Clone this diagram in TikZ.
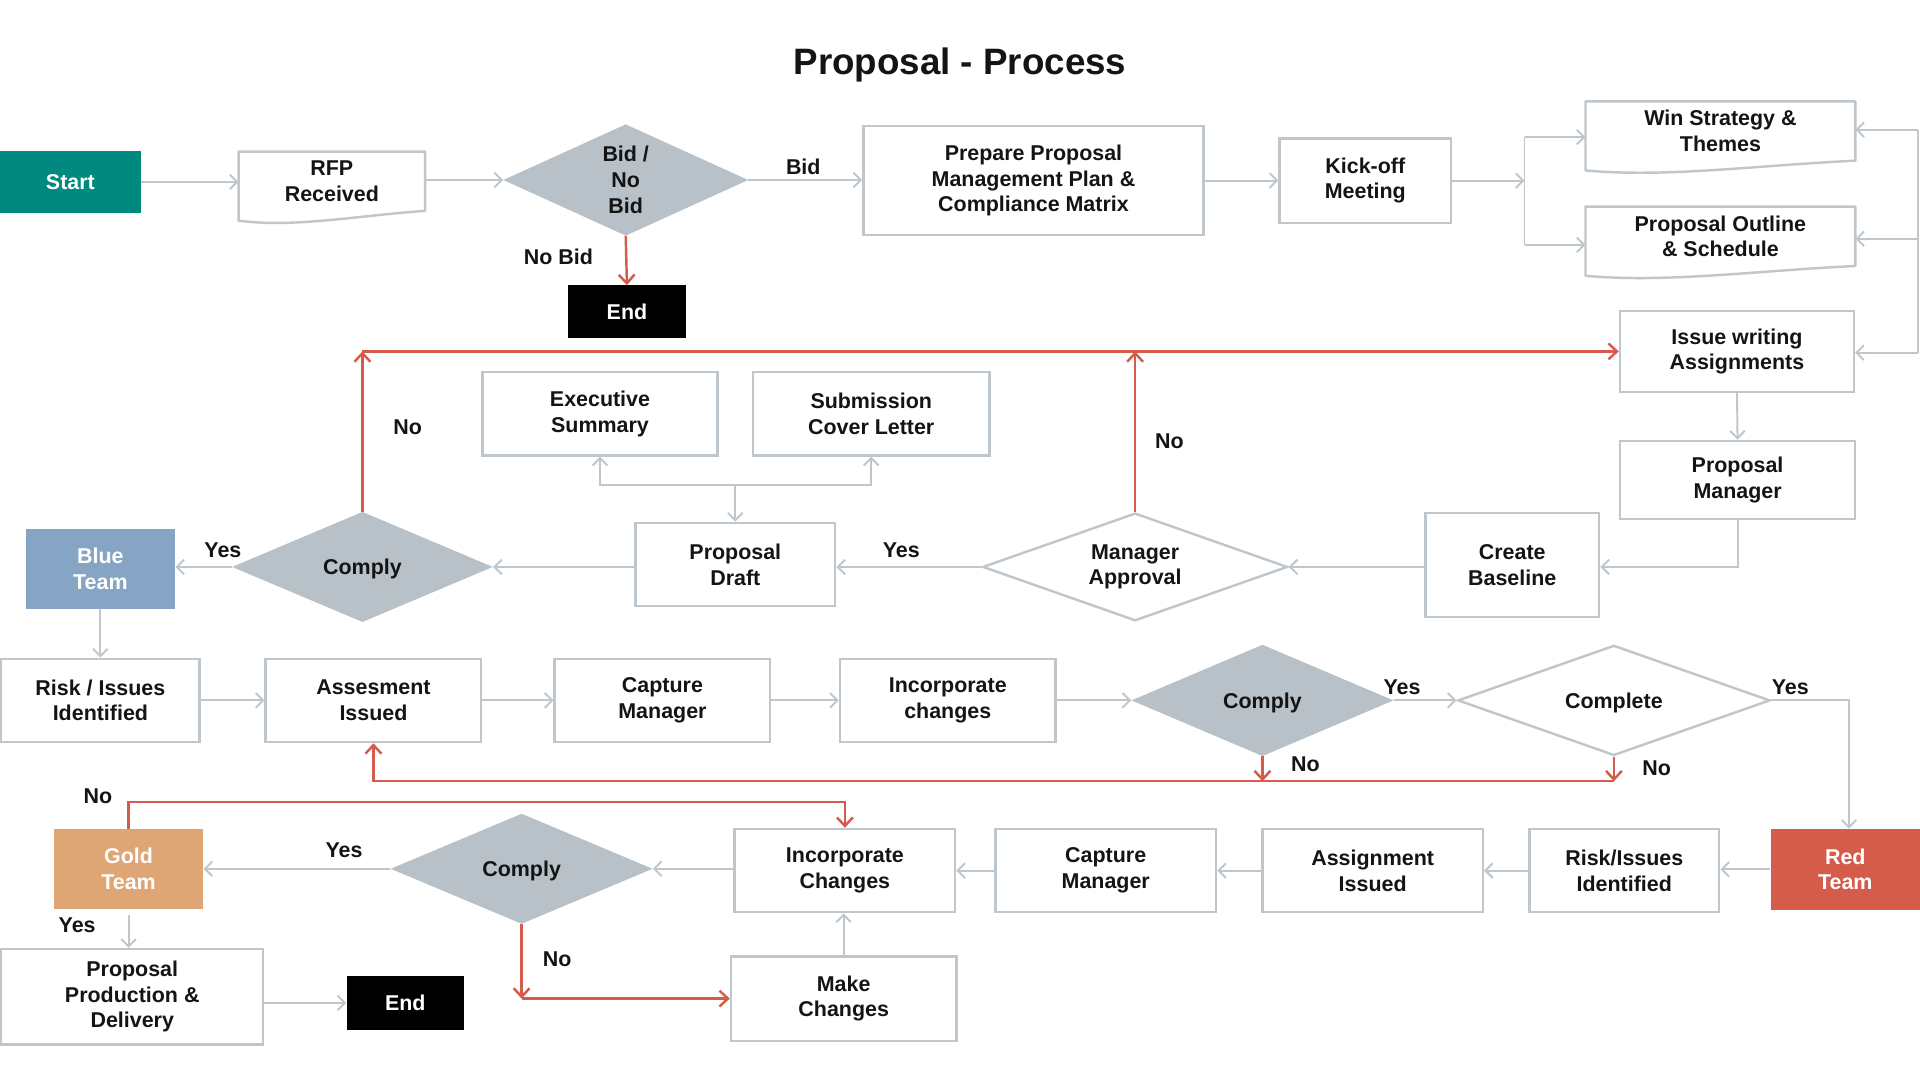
\documentclass[tikz,border=0pt]{standalone}
\usepackage{fontspec}
\setmainfont{Liberation Sans}
\usetikzlibrary{shapes.geometric,arrows.meta}
\definecolor{cTeal}{HTML}{00897E}
\definecolor{cGray}{HTML}{BFC7CD}
\definecolor{cDia}{HTML}{B7C1C7}
\definecolor{cBlue}{HTML}{86A5C5}
\definecolor{cGold}{HTML}{DEA674}
\definecolor{cRed}{HTML}{D55B4A}
\definecolor{cText}{HTML}{141414}
\newcommand{\docwave}[2]{%
  \draw[draw=cGray, line width=2pt, line join=round]
    (#1.south west) -- (#1.north west) -- (#1.north east) -- (#1.south east)
    .. controls ([xshift={-0.375*#2}, yshift=-4pt]#1.south east)
           and ([xshift={0.3*#2}, yshift=-14pt]#1.south west)
    .. ([yshift=-8pt]#1.south west) -- cycle;}
\begin{document}
\begin{tikzpicture}[x=1pt,y=-1pt,
  font=\bfseries\fontsize{17.5}{21}\selectfont, text=cText,
  >={Straight Barb[length=6pt,width=12pt]},
  sz/.style 2 args={minimum width=#1pt, minimum height=#2pt},
  box/.style={rectangle, draw=cGray, line width=2pt, fill=white, align=center, inner sep=0pt},
  solidbox/.style={rectangle, fill=#1, draw=none, text=white, align=center, inner sep=0pt},
  docnode/.style={rectangle, draw=none, align=center, inner sep=0pt},
  dia/.style={diamond, draw=cGray, line width=2pt, fill=white, align=center, inner sep=0pt},
  fdia/.style={diamond, draw=none, fill=cDia, align=center, inner sep=0pt},
  oneline/.style={text height=13pt, text depth=0pt},
  arr/.style={->, draw=cGray, line width=1.6pt},
  redarr/.style={->, draw=cRed, line width=2pt, >={Straight Barb[length=7pt,width=13pt]}},
  lbl/.style={inner sep=0pt}]
\useasboundingbox[fill=white] (0,0) rectangle (1568,882);

\node[lbl] (title) at (784,53) {\fontsize{30}{36}\selectfont Proposal - Process};

% Row 1
\node[solidbox=cTeal, sz={115}{51}] (start) at (57.5,148.5) {Start};
\node[docnode, sz={152}{48}] (rfp) at (271,148) {RFP\\Received};
\docwave{rfp}{152}
\node[fdia, shape aspect=2.2, sz={200}{91}] (bid) at (511,147) {Bid /\\No\\Bid};
\node[solidbox=black, sz={96}{43}] (end1) at (512,254.5) {End};
\node[box, sz={278}{89}] (prep) at (844,147.5) {Prepare Proposal\\Management Plan \&\\Compliance Matrix};
\node[box, sz={140}{69}] (kick) at (1115,147.5) {Kick-off\\Meeting};
\node[docnode, sz={220}{48}] (win) at (1405,107) {Win Strategy \&\\Themes};
\docwave{win}{220}
\node[docnode, sz={220}{48}] (outline) at (1405,193) {Proposal Outline\\\& Schedule};
\docwave{outline}{220}
\node[box, sz={191}{66}] (issue) at (1418.5,287) {Issue writing\\Assignments};

% Row 2
\node[box, sz={192}{64}] (pm) at (1419,392) {Proposal\\Manager};
\node[box, sz={142}{85}] (base) at (1235,461.5) {Create\\Baseline};
\node[dia, shape aspect=2.8, sz={249}{88}] (ma) at (927,463) {Manager\\Approval};
\node[box, sz={192}{68}] (exec) at (490,338) {Executive\\Summary};
\node[box, sz={193}{68}] (sub) at (711.5,338) {Submission\\Cover Letter};
\node[box, sz={163}{68}] (draft) at (600.5,461) {Proposal\\Draft};
\node[fdia, oneline, shape aspect=2.4, sz={213}{90}] (c1) at (296,463) {Comply};
\node[solidbox=cBlue, sz={122}{65}] (blue) at (82,464.5) {Blue\\Team};

% Row 3
\node[box, sz={162}{68}] (risk1) at (82,572) {Risk / Issues\\Identified};
\node[box, sz={176}{68}] (assess) at (305,572) {Assesment\\Issued};
\node[box, sz={176}{68}] (cap1) at (541,572) {Capture\\Manager};
\node[box, sz={176}{68}] (inc1) at (774,572) {Incorporate\\changes};
\node[fdia, oneline, shape aspect=2.4, sz={214}{91}] (c2) at (1031,572) {Comply};
\node[dia, oneline, shape aspect=2.8, sz={255}{90}] (comp) at (1318,572) {Complete};

% Row 4
\node[solidbox=cRed, sz={122}{66}] (red) at (1507,710) {Red\\Team};
\node[box, sz={155}{68}] (risk2) at (1326.5,711) {Risk/Issues\\Identified};
\node[box, sz={180}{68}] (assign) at (1121,711) {Assignment\\Issued};
\node[box, sz={180}{68}] (cap2) at (903,711) {Capture\\Manager};
\node[box, sz={180}{68}] (inc2) at (690,711) {Incorporate\\Changes};
\node[fdia, oneline, shape aspect=2.4, sz={214}{90}] (c3) at (426,709.5) {Comply};
\node[solidbox=cGold, sz={122}{65}] (gold) at (105,709.5) {Gold\\Team};

% Row 5
\node[box, sz={214}{78}] (prod) at (108,814) {Proposal\\Production \&\\Delivery};
\node[solidbox=black, sz={96}{44}] (end2) at (331,819) {End};
\node[box, sz={184}{69}] (make) at (689,815.5) {Make\\Changes};

% Labels
\node[lbl] (lbid) at (656,136) {Bid};
\node[lbl] (lnobid) at (456,210) {No Bid};
\node[lbl] (lno1) at (333,349) {No};
\node[lbl] (lno2) at (955,360) {No};
\node[lbl] (lyes1) at (182,449) {Yes};
\node[lbl] (lyes2) at (736,449) {Yes};
\node[lbl] (lyes3) at (1145,561) {Yes};
\node[lbl] (lyes4) at (1462,561) {Yes};
\node[lbl] (lno3) at (1066,624) {No};
\node[lbl] (lno4) at (1353,627) {No};
\node[lbl] (lno5) at (80,650) {No};
\node[lbl] (lyes5) at (281,694) {Yes};
\node[lbl] (lyes6) at (63,756) {Yes};
\node[lbl] (lno6) at (455,783) {No};

% Coordinates
\coordinate (fk) at (1245,147.5);
\coordinate (fkt) at (1245,112);
\coordinate (fkb) at (1245,200);
\coordinate (rb1) at (1566,106);
\coordinate (rb2) at (1566,195);
\coordinate (rb3) at (1566,288);
\coordinate (dj) at (600.5,396);
\coordinate (rc) at (296,287);
\coordinate (rbus) at (1318,638);

% Row 1 connectors
\draw[arr] (start.east) -- (start.east -| rfp.west);
\draw[arr] (rfp.east |- bid.west) -- (bid.west);
\draw[arr] (bid.east) -- (bid.east -| prep.west);
\draw[redarr] (bid.south) -- (end1.north);
\draw[arr] (prep.east) -- (prep.east -| kick.west);
\draw[arr] (kick.east) -- (fk);
\draw[draw=cGray, line width=1.6pt] (fkt) -- (fkb);
\draw[arr] (fkt) -- (fkt -| win.west);
\draw[arr] (fkb) -- (fkb -| outline.west);
\draw[draw=cGray, line width=1.6pt] (rb1) -- (rb3);
\draw[arr] (rb1) -- (rb1 -| win.east);
\draw[arr] (rb2) -- (rb2 -| outline.east);
\draw[arr] (rb3) -- (rb3 -| issue.east);

% Row 2 connectors
\draw[arr] (issue.south) -- (pm.north);
\draw[arr] (pm.south) -- (pm.south |- ma.east) -- (ma.east -| base.east);
\draw[arr] (ma.east -| base.west) -- (ma.east);
\draw[arr] (ma.west) -- (ma.west -| draft.east);
\draw[arr] (c1.east -| draft.west) -- (c1.east);
\draw[arr] (c1.west) -- (c1.west -| blue.east);
\draw[arr] (dj) -- (draft.north);
\draw[arr] (dj) -| (exec.south);
\draw[arr] (dj) -| (sub.south);
\draw[redarr] (c1.north) -- (rc);
\draw[redarr] (rc) -- (issue.west);
\draw[redarr] (ma.north) -- (ma.north |- rc);

% Row 3 connectors
\draw[arr] (blue.south) -- (risk1.north);
\draw[arr] (risk1.east) -- (assess.west);
\draw[arr] (assess.east) -- (cap1.west);
\draw[arr] (cap1.east) -- (inc1.west);
\draw[arr] (inc1.east) -- (c2.west);
\draw[arr] (c2.east) -- (comp.west);
\draw[arr] (comp.east) -| ([xshift=3pt]red.north);
\draw[redarr] (comp.south) -- (rbus);
\draw[redarr] (c2.south) -- (c2.south |- rbus);
\draw[redarr] (rbus) -| (assess.south);

% Row 4 connectors
\draw[arr] (red.west) -- (red.west -| risk2.east);
\draw[arr] (risk2.west) -- (assign.east);
\draw[arr] (assign.west) -- (cap2.east);
\draw[arr] (cap2.west) -- (inc2.east);
\draw[arr] (c3.east -| inc2.west) -- (c3.east);
\draw[arr] (c3.west) -- (c3.west -| gold.east);
\draw[redarr] (gold.north) -- ++(0,-22) -| (inc2.north);
\draw[arr, shorten <=5pt] (gold.south) -- (gold.south |- prod.north);
\draw[arr] (end2.west -| prod.east) -- (end2.west);
\draw[redarr] (c3.south) -- (c3.south |- make.west);
\draw[redarr] (c3.south |- make.west) -- (make.west);
\draw[arr] (make.north) -- (make.north |- inc2.south);
\end{tikzpicture}
\end{document}
